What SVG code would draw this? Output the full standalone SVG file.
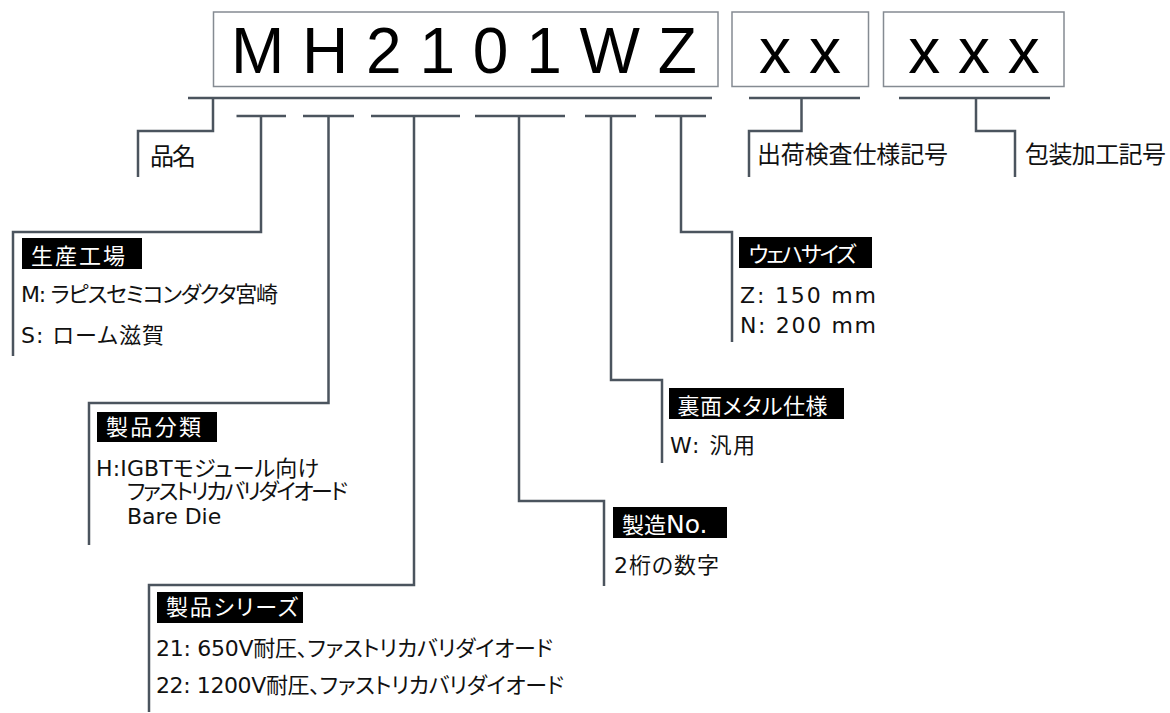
<svg xmlns="http://www.w3.org/2000/svg" width="1170" height="713" viewBox="0 0 1170 713">
<style>
.box{fill:#fff;stroke:#858b92;stroke-width:1.5}
.code{font-family:"Liberation Sans",Arial,sans-serif;font-size:64px;fill:#000}
.con{fill:none;stroke:#4b545e;stroke-width:2.5}
.lab{fill:#000}
.labt{font-family:"DejaVu Sans","Noto Sans CJK JP",sans-serif;font-size:22px;fill:#fff;font-feature-settings:"palt"}
.t{font-family:"DejaVu Sans","Noto Sans CJK JP",sans-serif;font-size:22px;fill:#111;font-feature-settings:"palt"}
.h{font-family:"Noto Sans CJK JP",sans-serif;font-size:24px;fill:#111}
</style>
<rect width="1170" height="713" fill="#fff"/>
<g id="code-main">
<rect class="box" x="213.5" y="12" width="504.5" height="74.5"/>
<text class="code" x="231" y="73">M H 2 1 0 1 W Z</text>
</g>
<g id="code-xx">
<rect class="box" x="732" y="12" width="136.5" height="74.5"/>
<text class="code" x="800" y="73" text-anchor="middle">x x</text>
</g>
<g id="code-xxx">
<rect class="box" x="883.5" y="12" width="180.5" height="74.5"/>
<text class="code" x="974" y="73" text-anchor="middle">x x x</text>
</g>
<g id="connectors">
<path class="con" d="M188,98H712M749,98H860M899,98H1050"/>
<path class="con" d="M236.5,116H286M303,116H354M371,116H460M475,116H565M585,116H636M655,116H706"/>
<path class="con" d="M213,98V131H138V177"/>
<path class="con" d="M801.5,98V131H749V177"/>
<path class="con" d="M976,98V131H1015V177"/>
<path class="con" d="M261,116V232H13V356"/>
<path class="con" d="M328.5,116V403H89V545"/>
<path class="con" d="M414,116V585H149V712"/>
<path class="con" d="M519,116V501H604V586"/>
<path class="con" d="M611,116V380H662V463"/>
<path class="con" d="M681,116V232H732V342"/>
</g>
<g id="hinmei">
<text class="h" x="150" y="165" textLength="46">品名</text>
</g>
<g id="shukka">
<text class="h" x="757" y="163" textLength="191">出荷検査仕様記号</text>
</g>
<g id="housou">
<text class="h" x="1025" y="163" textLength="141">包装加工記号</text>
</g>
<g id="seisan-kojo">
<rect class="lab" x="22" y="238" width="120" height="31"/>
<text class="labt" x="31" y="264" textLength="94">生産工場</text>
<text class="t" x="21" y="302" textLength="257">M: ラピスセミコンダクタ宮崎</text>
<text class="t" x="21" y="343" textLength="143">S: ローム滋賀</text>
</g>
<g id="seihin-bunrui">
<rect class="lab" x="97" y="412" width="120" height="30"/>
<text class="labt" x="106" y="435" textLength="95">製品分類</text>
<text class="t" x="96" y="476" textLength="223">H:IGBTモジュール向け</text>
<text class="t" x="127" y="499" textLength="221">ファストリカバリダイオード</text>
<text class="t" x="127" y="524">Bare Die</text>
</g>
<g id="seihin-series">
<rect class="lab" x="157" y="592" width="146" height="31"/>
<text class="labt" x="166" y="615" textLength="132">製品シリーズ</text>
<text class="t" x="156" y="656" textLength="397">21: 650V耐圧、ファストリカバリダイオード</text>
<text class="t" x="156" y="693" textLength="408">22: 1200V耐圧、ファストリカバリダイオード</text>
</g>
<g id="seizou-no">
<rect class="lab" x="613" y="507" width="114" height="31"/>
<text class="labt" x="622" y="533">製造<tspan font-size="25">No.</tspan></text>
<text class="t" x="614" y="573" textLength="105">2桁の数字</text>
</g>
<g id="rimen-metal">
<rect class="lab" x="669" y="388" width="175" height="31"/>
<text class="labt" x="677.5" y="414" textLength="150">裏面メタル仕様</text>
<text class="t" x="670" y="453" textLength="85">W: 汎用</text>
</g>
<g id="wafer-size">
<rect class="lab" x="739" y="237" width="133" height="31"/>
<text class="labt" x="748.5" y="262" textLength="108">ウェハサイズ</text>
<text class="t" x="740" y="302.5" textLength="136">Z: 150 mm</text>
<text class="t" x="740" y="333" textLength="136">N: 200 mm</text>
</g>
</svg>
